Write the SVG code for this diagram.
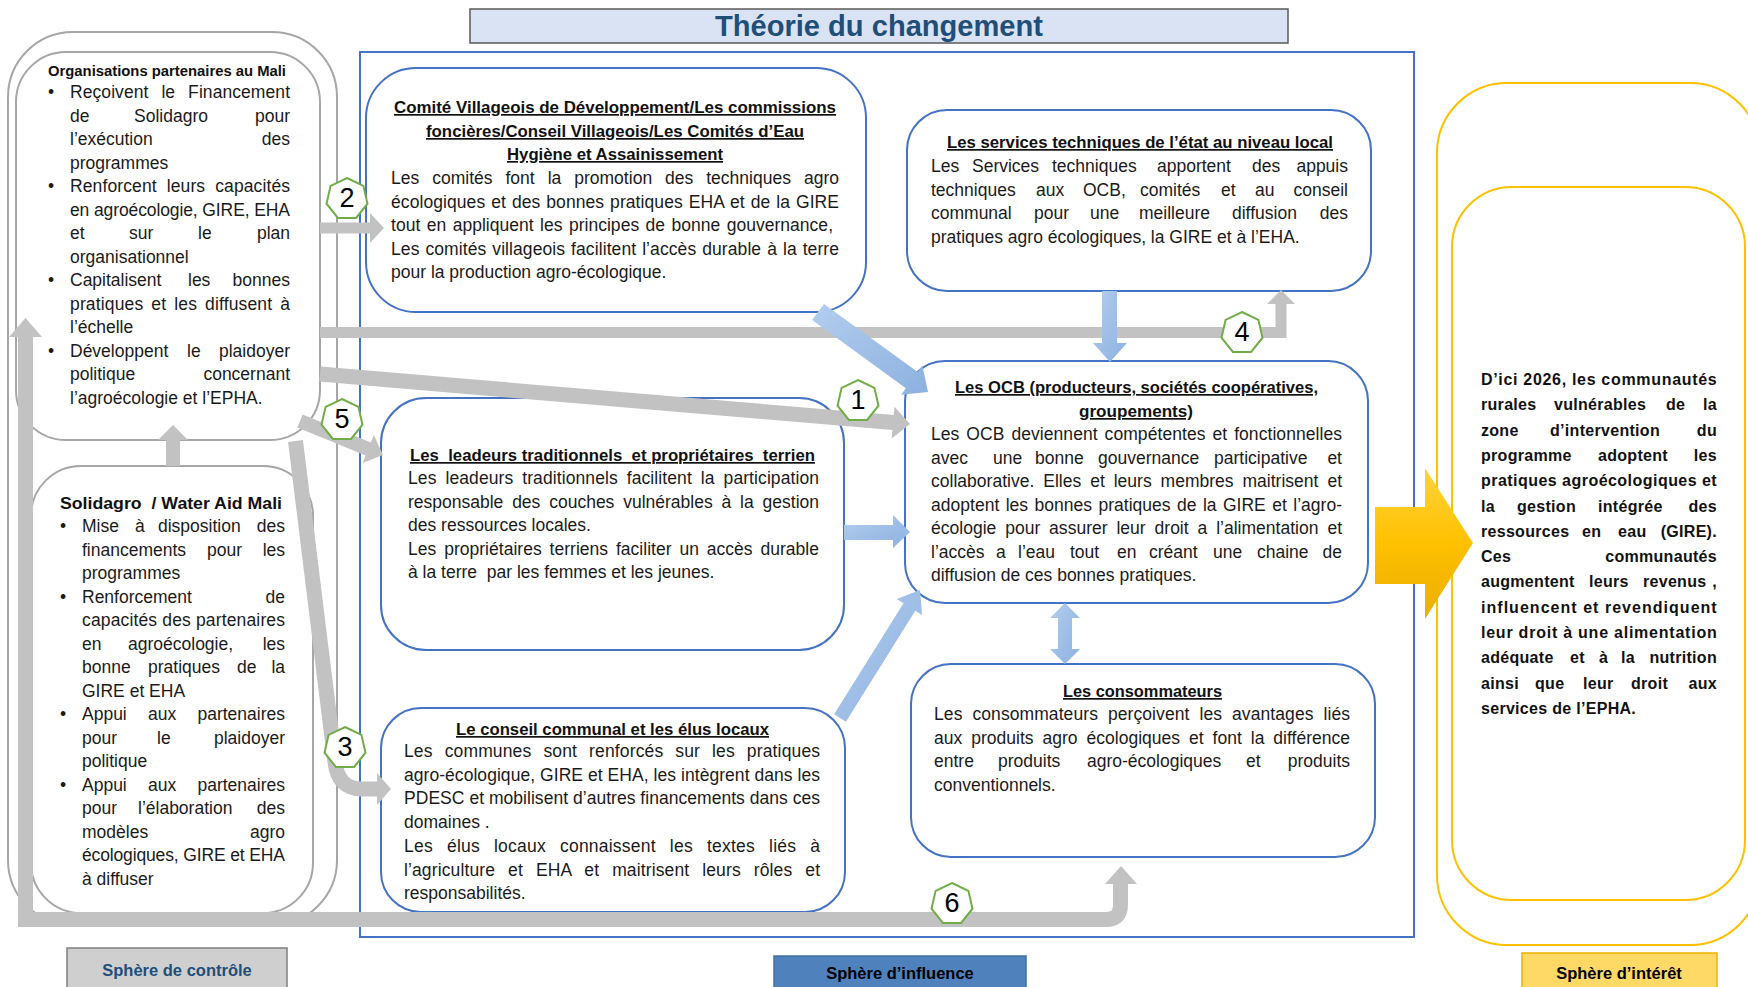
<svg xmlns="http://www.w3.org/2000/svg" xmlns:xlink="http://www.w3.org/1999/xlink" width="1748" height="987" viewBox="0 0 1748 987">
<style>
text{font-family:"Liberation Sans",Arial,sans-serif}
.tx{font-size:17.5px;fill:#1a1a1a}
.hd{font-size:17px;font-weight:bold;fill:#111;text-decoration:underline;text-anchor:middle}
.e{text-anchor:end}
.m{text-anchor:middle}
.oc{font-size:16px;font-weight:bold;letter-spacing:0.3px;fill:#111}
.cbox{fill:#fff;stroke:#a6a6a6;stroke-width:2}
.bbox{fill:#fff;stroke:#4472c4;stroke-width:2}
.ybox{fill:none;stroke:#ffc000;stroke-width:2}
.g{fill:#c2c2c2}
.gs{fill:none;stroke:#c2c2c2;stroke-linejoin:miter}
.bl{fill:url(#blueg)}
.hex{fill:#fff;stroke:#70ad47;stroke-width:2}
.num{font-size:27px;text-anchor:middle;fill:#000}
.lab{font-size:16.5px;font-weight:bold;text-anchor:middle}
</style>
<defs>
<linearGradient id="blueg" x1="0" y1="0" x2="1" y2="1">
<stop offset="0" stop-color="#b3cdee"/>
<stop offset="1" stop-color="#8cb1e0"/>
</linearGradient>
<linearGradient id="yelg" x1="0" y1="0" x2="0" y2="1">
<stop offset="0" stop-color="#ffd43b"/>
<stop offset="0.5" stop-color="#ffc000"/>
<stop offset="1" stop-color="#eaae00"/>
</linearGradient>
<polygon id="hp" points="0,-21 16.4,-13.1 20.5,4.7 9.1,18.9 -9.1,18.9 -20.5,4.7 -16.4,-13.1"/>
</defs>
<rect width="1748" height="987" fill="#fff"/>

<!-- title -->
<g id="title">
<rect x="470" y="9" width="818" height="34" fill="#dae3f3" stroke="#595959" stroke-width="1.5"/>
<text x="879" y="36" text-anchor="middle" font-size="29" font-weight="bold" fill="#1f4e79" textLength="328" lengthAdjust="spacingAndGlyphs">Théorie du changement</text>
</g>

<!-- sphere frames -->
<g id="sphere-controle">
<rect x="8" y="32" width="329" height="893" rx="65" fill="none" stroke="#a6a6a6" stroke-width="2"/>
</g>
<g id="sphere-influence">
<rect x="360" y="52" width="1054" height="885" fill="none" stroke="#4472c4" stroke-width="2"/>
</g>
<g id="sphere-interet">
<rect x="1437" y="83" width="323" height="862" rx="70" class="ybox"/>
</g>

<!-- Organisations partenaires -->
<g id="node-organisations" class="tx">
<rect x="16" y="52" width="304" height="388" rx="50" class="cbox"/>
<text x="167" y="76" text-anchor="middle" font-size="14.5" font-weight="bold" fill="#111" textLength="238" lengthAdjust="spacingAndGlyphs">Organisations partenaires au Mali</text>
<text x="48" y="98">•</text><text x="48" y="192">•</text><text x="48" y="286">•</text><text x="48" y="356.5">•</text>
<text x="70" y="98" textLength="220" lengthAdjust="spacing" word-spacing="8">Reçoivent le Financement</text>
<text x="70" y="121.5">de</text><text x="171" y="121.5" class="m">Solidagro</text><text x="290" y="121.5" class="e">pour</text>
<text x="70" y="145">l’exécution</text><text x="290" y="145" class="e">des</text>
<text x="70" y="168.5">programmes</text>
<text x="70" y="192" textLength="220" lengthAdjust="spacing" word-spacing="5">Renforcent leurs capacités</text>
<text x="70" y="215.5" textLength="220" lengthAdjust="spacing">en agroécologie, GIRE, EHA</text>
<text x="70" y="239">et</text><text x="129" y="239">sur</text><text x="198" y="239">le</text><text x="290" y="239" class="e">plan</text>
<text x="70" y="262.5">organisationnel</text>
<text x="70" y="286">Capitalisent</text><text x="188" y="286">les</text><text x="290" y="286" class="e">bonnes</text>
<text x="70" y="309.5" textLength="220" lengthAdjust="spacing" word-spacing="3">pratiques et les diffusent à</text>
<text x="70" y="333">l’échelle</text>
<text x="70" y="356.5">Développent</text><text x="187" y="356.5">le</text><text x="290" y="356.5" class="e">plaidoyer</text>
<text x="70" y="380">politique</text><text x="290" y="380" class="e">concernant</text>
<text x="70" y="403.5">l’agroécologie et l’EPHA.</text>
</g>

<!-- Solidagro -->
<g id="node-solidagro" class="tx">
<rect x="31" y="466" width="282" height="447" rx="50" class="cbox"/>
<text x="171" y="509" text-anchor="middle" font-size="17" font-weight="bold" fill="#111" textLength="222" lengthAdjust="spacingAndGlyphs" xml:space="preserve">Solidagro  / Water Aid Mali</text>
<text x="60" y="532">•</text><text x="60" y="602.5">•</text><text x="60" y="720">•</text><text x="60" y="790.5">•</text>
<text x="82" y="532">Mise</text><text x="135" y="532">à</text><text x="158" y="532">disposition</text><text x="285" y="532" class="e">des</text>
<text x="82" y="555.5">financements</text><text x="207" y="555.5">pour</text><text x="285" y="555.5" class="e">les</text>
<text x="82" y="579">programmes</text>
<text x="82" y="602.5">Renforcement</text><text x="285" y="602.5" class="e">de</text>
<text x="82" y="626" textLength="203" lengthAdjust="spacing">capacités des partenaires</text>
<text x="82" y="649.5">en</text><text x="128" y="649.5">agroécologie,</text><text x="285" y="649.5" class="e">les</text>
<text x="82" y="673">bonne</text><text x="148" y="673">pratiques</text><text x="237" y="673">de</text><text x="285" y="673" class="e">la</text>
<text x="82" y="696.5">GIRE et EHA</text>
<text x="82" y="720">Appui</text><text x="148" y="720">aux</text><text x="285" y="720" class="e">partenaires</text>
<text x="82" y="743.5">pour</text><text x="157" y="743.5">le</text><text x="285" y="743.5" class="e">plaidoyer</text>
<text x="82" y="767">politique</text>
<text x="82" y="790.5">Appui</text><text x="148" y="790.5">aux</text><text x="285" y="790.5" class="e">partenaires</text>
<text x="82" y="814">pour</text><text x="138" y="814">l’élaboration</text><text x="285" y="814" class="e">des</text>
<text x="82" y="837.5">modèles</text><text x="285" y="837.5" class="e">agro</text>
<text x="82" y="861" textLength="203" lengthAdjust="spacing">écologiques, GIRE et EHA</text>
<text x="82" y="884.5">à diffuser</text>
</g>

<!-- Comité -->
<g id="node-comite" class="tx">
<rect x="366" y="68" width="500" height="244" rx="50" class="bbox"/>
<text x="615" y="113" class="hd" textLength="442" lengthAdjust="spacingAndGlyphs">Comité Villageois de Développement/Les commissions</text>
<text x="615" y="137" class="hd" textLength="378" lengthAdjust="spacingAndGlyphs">foncières/Conseil Villageois/Les Comités d’Eau</text>
<text x="615" y="160" class="hd" textLength="216" lengthAdjust="spacingAndGlyphs">Hygiène et Assainissement</text>
<text x="391" y="184" textLength="448" lengthAdjust="spacing" word-spacing="8">Les comités font la promotion des techniques agro</text>
<text x="391" y="207.5" textLength="448" lengthAdjust="spacing" word-spacing="1">écologiques et des bonnes pratiques EHA et de la GIRE</text>
<text x="391" y="231" textLength="442" lengthAdjust="spacing" word-spacing="1.5">tout en appliquent les principes de bonne gouvernance,</text>
<text x="391" y="254.5" textLength="448" lengthAdjust="spacing" word-spacing="1">Les comités villageois facilitent l’accès durable à la terre</text>
<text x="391" y="278">pour la production agro-écologique.</text>
</g>

<!-- Services techniques -->
<g id="node-services" class="tx">
<rect x="907" y="110" width="464" height="181" rx="40" class="bbox"/>
<text x="1140" y="148" class="hd" textLength="386" lengthAdjust="spacingAndGlyphs">Les services techniques de l’état au niveau local</text>
<text x="931" y="172">Les</text><text x="972" y="172">Services</text><text x="1052" y="172">techniques</text><text x="1157" y="172">apportent</text><text x="1252" y="172">des</text><text x="1348" y="172" class="e">appuis</text>
<text x="931" y="195.5">techniques</text><text x="1036" y="195.5">aux</text><text x="1083" y="195.5">OCB,</text><text x="1140" y="195.5">comités</text><text x="1221" y="195.5">et</text><text x="1255" y="195.5">au</text><text x="1348" y="195.5" class="e">conseil</text>
<text x="931" y="219">communal</text><text x="1034" y="219">pour</text><text x="1090" y="219">une</text><text x="1139" y="219">meilleure</text><text x="1232" y="219">diffusion</text><text x="1348" y="219" class="e">des</text>
<text x="931" y="242.5">pratiques agro écologiques, la GIRE et à l’EHA.</text>
</g>

<!-- OCB -->
<g id="node-ocb" class="tx">
<rect x="905" y="361" width="463" height="242" rx="40" class="bbox"/>
<text x="1136.5" y="393" class="hd" textLength="363" lengthAdjust="spacingAndGlyphs">Les OCB (producteurs, sociétés coopératives,</text>
<text x="1136" y="417" class="hd" textLength="114" lengthAdjust="spacingAndGlyphs">groupements)</text>
<text x="931" y="440" textLength="411" lengthAdjust="spacing" word-spacing="2">Les OCB deviennent compétentes et fonctionnelles</text>
<text x="931" y="463.5">avec</text><text x="993" y="463.5">une</text><text x="1035" y="463.5">bonne</text><text x="1098" y="463.5">gouvernance</text><text x="1214" y="463.5">participative</text><text x="1342" y="463.5" class="e">et</text>
<text x="931" y="487" textLength="411" lengthAdjust="spacing" word-spacing="4">collaborative. Elles et leurs membres maitrisent et</text>
<text x="931" y="510.5" textLength="411" lengthAdjust="spacing" word-spacing="1.5">adoptent les bonnes pratiques de la GIRE et l’agro-</text>
<text x="931" y="534" textLength="411" lengthAdjust="spacing" word-spacing="4">écologie pour assurer leur droit a l’alimentation et</text>
<text x="931" y="557.5">l’accès</text><text x="996" y="557.5">a</text><text x="1018" y="557.5">l’eau</text><text x="1070" y="557.5">tout</text><text x="1117" y="557.5">en</text><text x="1149" y="557.5">créant</text><text x="1213" y="557.5">une</text><text x="1257" y="557.5">chaine</text><text x="1342" y="557.5" class="e">de</text>
<text x="931" y="581">diffusion de ces bonnes pratiques.</text>
</g>

<!-- Leaders -->
<g id="node-leaders" class="tx">
<rect x="381" y="398" width="463" height="252" rx="45" class="bbox"/>
<text x="612.5" y="461" class="hd" textLength="405" lengthAdjust="spacingAndGlyphs" xml:space="preserve">Les  leadeurs traditionnels  et propriétaires  terrien</text>
<text x="408" y="484" textLength="411" lengthAdjust="spacing" word-spacing="4">Les leadeurs traditionnels facilitent la participation</text>
<text x="408" y="507.5" textLength="411" lengthAdjust="spacing" word-spacing="4">responsable des couches vulnérables à la gestion</text>
<text x="408" y="531">des ressources locales.</text>
<text x="408" y="554.5" textLength="411" lengthAdjust="spacing" word-spacing="3">Les propriétaires terriens faciliter un accès durable</text>
<text x="408" y="578" xml:space="preserve">à la terre  par les femmes et les jeunes.</text>
</g>

<!-- Conseil communal -->
<g id="node-conseil" class="tx">
<rect x="381" y="708" width="464" height="204" rx="40" class="bbox"/>
<text x="612.5" y="735" class="hd" textLength="313" lengthAdjust="spacingAndGlyphs">Le conseil communal et les élus locaux</text>
<text x="404" y="757" textLength="416" lengthAdjust="spacing" word-spacing="7">Les communes sont renforcés sur les pratiques</text>
<text x="404" y="780.5" textLength="416" lengthAdjust="spacing">agro-écologique, GIRE et EHA, les intègrent dans les</text>
<text x="404" y="804" textLength="416" lengthAdjust="spacing">PDESC et mobilisent d’autres financements dans ces</text>
<text x="404" y="827.5">domaines .</text>
<text x="404" y="852" textLength="416" lengthAdjust="spacing" word-spacing="9">Les élus locaux connaissent les textes liés à</text>
<text x="404" y="875.5" textLength="416" lengthAdjust="spacing" word-spacing="8">l’agriculture et EHA et maitrisent leurs rôles et</text>
<text x="404" y="899">responsabilités.</text>
</g>

<!-- Consommateurs -->
<g id="node-consommateurs" class="tx">
<rect x="911" y="664" width="464" height="193" rx="40" class="bbox"/>
<text x="1142.5" y="697" class="hd" textLength="159" lengthAdjust="spacingAndGlyphs">Les consommateurs</text>
<text x="934" y="720" textLength="416" lengthAdjust="spacing" word-spacing="5">Les consommateurs perçoivent les avantages liés</text>
<text x="934" y="743.5" textLength="416" lengthAdjust="spacing" word-spacing="4">aux produits agro écologiques et font la différence</text>
<text x="934" y="767">entre</text><text x="998" y="767">produits</text><text x="1087" y="767">agro-écologiques</text><text x="1246" y="767">et</text><text x="1350" y="767" class="e">produits</text>
<text x="934" y="790.5">conventionnels.</text>
</g>

<!-- Outcome -->
<g id="node-impact" class="oc">
<rect x="1452" y="187" width="293" height="713" rx="60" class="ybox"/>
<text x="1481" y="385" textLength="236" lengthAdjust="spacing">D’ici 2026, les communautés</text>
<text x="1481" y="410.3">rurales</text><text x="1554" y="410.3">vulnérables</text><text x="1666" y="410.3">de</text><text x="1717" y="410.3" class="e">la</text>
<text x="1481" y="435.6">zone</text><text x="1550" y="435.6">d’intervention</text><text x="1717" y="435.6" class="e">du</text>
<text x="1481" y="460.9">programme</text><text x="1598" y="460.9">adoptent</text><text x="1717" y="460.9" class="e">les</text>
<text x="1481" y="486.2" textLength="236" lengthAdjust="spacing">pratiques agroécologiques et</text>
<text x="1481" y="511.5">la</text><text x="1517" y="511.5">gestion</text><text x="1598" y="511.5">intégrée</text><text x="1717" y="511.5" class="e">des</text>
<text x="1481" y="536.8">ressources</text><text x="1582" y="536.8">en</text><text x="1618" y="536.8">eau</text><text x="1717" y="536.8" class="e">(GIRE).</text>
<text x="1481" y="562.1">Ces</text><text x="1717" y="562.1" class="e">communautés</text>
<text x="1481" y="587.4">augmentent</text><text x="1589" y="587.4">leurs</text><text x="1643" y="587.4">revenus</text><text x="1717" y="587.4" class="e">,</text>
<text x="1481" y="612.7" textLength="236" lengthAdjust="spacing">influencent et revendiquent</text>
<text x="1481" y="638" textLength="236" lengthAdjust="spacing">leur droit à une alimentation</text>
<text x="1481" y="663.3">adéquate</text><text x="1570" y="663.3">et</text><text x="1599" y="663.3">à</text><text x="1621" y="663.3">la</text><text x="1717" y="663.3" class="e">nutrition</text>
<text x="1481" y="688.6">ainsi</text><text x="1535" y="688.6">que</text><text x="1583" y="688.6">leur</text><text x="1631" y="688.6">droit</text><text x="1717" y="688.6" class="e">aux</text>
<text x="1481" y="713.9">services de l’EPHA.</text>
</g>

<!-- bottom labels -->
<g id="label-controle">
<rect x="67" y="948" width="220" height="50" fill="#cfcfcf" stroke="#7f7f7f" stroke-width="1.5"/>
<text x="177" y="976" class="lab" fill="#1f4e79">Sphère de contrôle</text>
</g>
<g id="label-influence">
<rect x="774" y="956" width="252" height="42" fill="#4f81bd" stroke="#41719c" stroke-width="1.5"/>
<text x="900" y="979" class="lab" fill="#000">Sphère d’influence</text>
</g>
<g id="label-interet">
<rect x="1522" y="953" width="195" height="45" fill="#ffd966" stroke="#f0b400" stroke-width="1.5"/>
<text x="1619" y="979" class="lab" fill="#000">Sphère d’intérêt</text>
</g>

<!-- connectors -->
<g id="connectors">
<path class="gs" stroke-width="15" d="M25.5 336 V919.5 H1106 Q1120.5 919.5 1120.5 905 V883"/>
<polygon class="g" points="9,337 25.5,318 42,337"/>
<polygon class="g" points="1105,884 1121,866 1137,884"/>
<path class="gs" stroke-width="14" d="M173 466 V438"/>
<polygon class="g" points="158,440 173,425 188,440"/>
<path class="gs" stroke-width="11" d="M320 228 H371"/>
<polygon class="g" points="370,213 384,228 370,243"/>
<path class="gs" stroke-width="11" d="M320 332.5 H1281 V303"/>
<polygon class="g" points="1267,304 1281,290 1295,304"/>
<polygon class="g" points="320.7,366.5 893.8,415.1 894.5,406.7 910,424 891.7,438.5 892.4,430.1 319.3,381.5"/>
<polygon class="g" points="302.6,414.5 370.8,442.5 373.8,435.1 383,455 362.6,462.9 365.6,455.5 297.4,427.5"/>
<path class="gs" stroke-width="15" d="M295.5 441 L335 762 Q338 789 362 789 H378"/>
<polygon class="g" points="377,773 391,789 377,805"/>
<polygon class="bl" points="823.9,303.9 917.7,372.1 922.4,365.6 928,392 901.2,394.8 905.9,388.3 812.1,320.1"/>
<polygon class="bl" points="1102,291 1117,291 1117,343 1127,343 1110,362 1093,343 1102,343"/>
<polygon class="bl" points="844,525 893,525 893,515 910,532 893,548 893,540 844,540"/>
<polygon class="bl" points="834.1,714.3 903.5,603.3 896.7,599 920,590 922.1,615 915.3,610.7 845.9,721.7"/>
<polygon class="bl" points="1065,603 1080,618 1072,618 1072,649 1080,649 1065,664 1050,649 1058,649 1058,618 1050,618"/>
<polygon fill="url(#yelg)" points="1375,507 1425,507 1425,468 1473,543 1425,619 1425,584 1375,584"/>
</g>

<!-- numbered markers -->
<g id="markers">
<g id="m1"><use xlink:href="#hp" x="858" y="401" class="hex"/><text x="858" y="409" class="num">1</text></g>
<g id="m2"><use xlink:href="#hp" x="347" y="199" class="hex"/><text x="347" y="207" class="num">2</text></g>
<g id="m3"><use xlink:href="#hp" x="345" y="748" class="hex"/><text x="345" y="756" class="num">3</text></g>
<g id="m4"><use xlink:href="#hp" x="1242" y="333" class="hex"/><text x="1242" y="341" class="num">4</text></g>
<g id="m5"><use xlink:href="#hp" x="342" y="420" class="hex"/><text x="342" y="428" class="num">5</text></g>
<g id="m6"><use xlink:href="#hp" x="952" y="904" class="hex"/><text x="952" y="912" class="num">6</text></g>
</g>
</svg>
